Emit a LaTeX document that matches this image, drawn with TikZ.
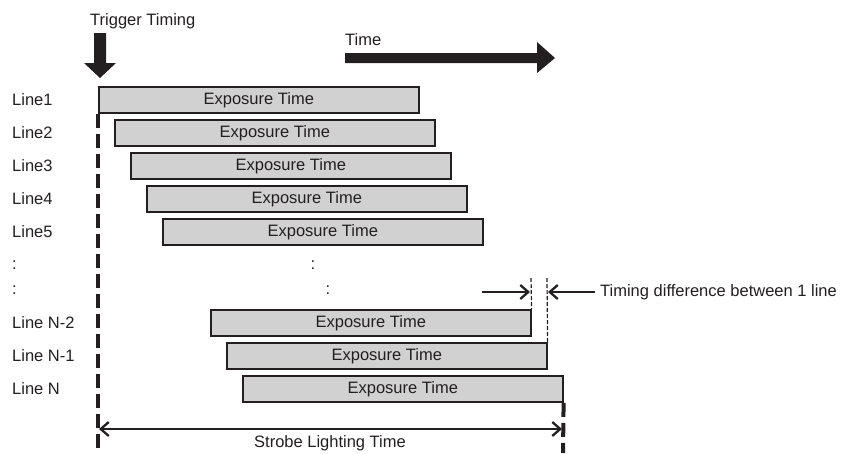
\documentclass[tikz,border=0pt]{standalone}
\usepackage{fontspec}
\setmainfont{Liberation Sans}
\usetikzlibrary{arrows.meta, positioning}
\definecolor{barfill}{RGB}{209, 209, 209}
\definecolor{ink}{RGB}{35, 31, 32}

\begin{document}
\begin{tikzpicture}[x=1pt, y=-1pt, font=\fontsize{16.5}{19}\selectfont,
  expbar/.style={draw=ink, line width=1.6pt, fill=barfill, minimum width=320pt,
    minimum height=26pt, inner sep=0pt, anchor=west, text=ink},
  linelbl/.style={anchor=west, inner sep=0pt, text=ink},
  gate/.style={draw=ink, line width=4pt, dash pattern=on 14pt off 6pt},
  tickline/.style={draw=ink, line width=1.2pt, dash pattern=on 4pt off 2pt},
  barb/.style={draw=ink, line width=2.3pt},
  tip/.tip={Straight Barb[length=8pt, width=14pt]}]
  \useasboundingbox (0, 0) rectangle (851, 453);
  % Big arrows
  \node[linelbl] (trig) at (90, 21) {Trigger Timing};
  \fill[ink] (94, 33) -- (106, 33) -- (106, 63) -- (116, 63) -- (100, 78)
    -- (84, 63) -- (94, 63) -- cycle;
  \node[linelbl] (time) at (345, 40) {Time};
  \fill[ink] (345, 53) -- (537, 53) -- (537, 42) -- (555, 58) -- (537, 73)
    -- (537, 63) -- (345, 63) -- cycle;
  % First lines
  \foreach \n/\y [count=\k from 0] in {1/100, 2/133, 3/166, 4/199, 5/232} {
    \node[linelbl] (lbl\n) at (12, \y) {Line\n};
    \node[expbar] (bar\n) at (98+16*\k, \y) {Exposure Time};
  }
  % Skipped lines
  \node[linelbl] (dotsA) at (12, 265) {:};
  \node[linelbl] (dotsB) at (12, 290) {:};
  \node[text=ink, inner sep=0pt] (midA) at (313, 265) {:};
  \node[text=ink, inner sep=0pt] (midB) at (328, 290) {:};
  % Last lines
  \foreach \lbl/\n/\y/\x in {N-2/n2/323/210, N-1/n1/356/226, N/n/389/242} {
    \node[linelbl] (lbl\n) at (12, \y) {Line \lbl};
    \node[expbar] (bar\n) at (\x, \y) {Exposure Time};
  }
  % Timing difference
  \coordinate (tickA) at (531, 278);
  \coordinate (tickB) at (547, 278);
  \draw[tickline] (tickA) -- (barn2.north east);
  \draw[tickline] (tickB) -- (barn1.north east);
  \coordinate (inA) at (482, 292);
  \coordinate (outA) at (530, 292);
  \coordinate (inB) at (595, 292);
  \coordinate (outB) at (548, 292);
  \draw[barb, -tip] (inA) -- (outA);
  \draw[barb, -tip] (inB) -- (outB);
  \node[linelbl] (diff) at (600, 292) {Timing difference between 1 line};
  % Strobe
  \coordinate (gateL) at (98, 453);
  \coordinate (gateR) at (563, 453);
  \draw[gate] (bar1.south west) -- (gateL);
  \draw[gate] (barn.south east) -- (gateR);
  \coordinate (strobeL) at (99, 429);
  \coordinate (strobeR) at (562, 429);
  \draw[barb, tip-tip] (strobeL) -- (strobeR);
  \node[text=ink, inner sep=0pt] (strobe) at (330, 443) {Strobe Lighting Time};
\end{tikzpicture}
\end{document}
